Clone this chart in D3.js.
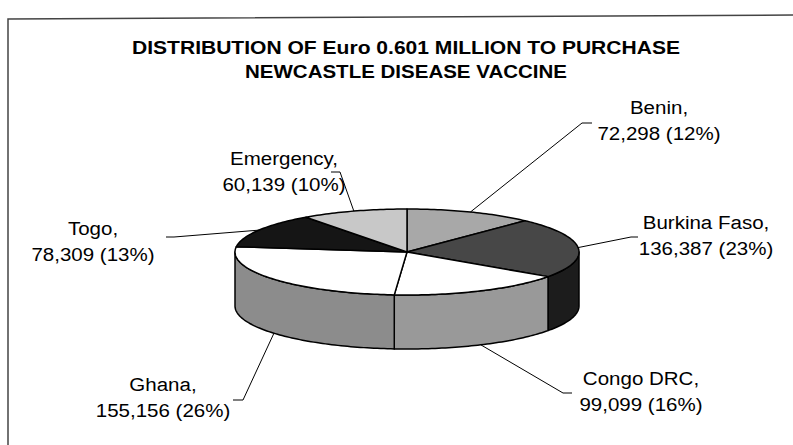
<!DOCTYPE html>
<html>
<head>
<meta charset="utf-8">
<script src="https://cdn.jsdelivr.net/npm/d3@7"></script>
<style>
  body { margin: 0; background: #fff; }
  svg { display: block; }
  text { font-family: "Liberation Sans", Arial, sans-serif; fill: #000; }
</style>
</head>
<body>
<div id="chart"></div>
<script>

// data
var categories = ['Benin', 'Burkina Faso', 'Congo DRC', 'Ghana', 'Togo', 'Emergency'];
var amounts = [72298, 136387, 99099, 155156, 78309, 60139];
var titleLines = ['DISTRIBUTION OF Euro 0.601 MILLION TO PURCHASE', 'NEWCASTLE DISEASE VACCINE'];

// look of the slices (top face / side wall)
var topColors = ['#a8a8a8', '#474747', '#ffffff', '#ffffff', '#151515', '#c8c8c8'];
var sideColors = ['#7a7a7a', '#1c1c1c', '#999999', '#8c8c8c', '#0c0c0c', '#9a9a9a'];

// title line widths in the scan
var titleWidths = [548, 322];

// label placement: text centre, first baseline, leader elbow and leader end
var labelLayout = [
	{ x: 659, y: 114, elbow: [582, 123], end: [592, 123] },
	{ x: 706, y: 229, elbow: [631, 237], end: [638, 237] },
	{ x: 641, y: 385, elbow: [563, 393], end: [572, 393] },
	{ x: 163, y: 391, elbow: [243, 400], end: [233, 400] },
	{ x: 93, y: 235, elbow: [174, 237], end: [166, 237] },
	{ x: 284, y: 165, elbow: [340, 172], end: [331, 172] }
];

var width = 793, height = 445;
var cx = 407, cy = 252, rx = 172, ry = 43, depth = 54;

var svg = d3.select('#chart').append('svg')
	.attr('width', width)
	.attr('height', height);

// scanned frame
svg.append('path')
	.attr('d', 'M8,' + height + ' L8,19 L' + width + ',15')
	.style('fill', 'none')
	.style('stroke', '#444')
	.style('stroke-width', 1.5);

titleLines.forEach(function(t, i) {
	svg.append('text')
		.attr('x', 406)
		.attr('y', 54 + i * 24)
		.attr('text-anchor', 'middle')
		.attr('textLength', titleWidths[i])
		.attr('lengthAdjust', 'spacingAndGlyphs')
		.style('font-size', '19px')
		.style('font-weight', 'bold')
		.text(t);
});

var total = d3.sum(amounts);
var pie = d3.pie().sort(null).value(function(d) { return d.value; });
var slices = pie(categories.map(function(c, i) {
	return { name: c, value: amounts[i], i: i };
}));

function pt(a, dy) {
	return [cx + rx * Math.sin(a), cy - ry * Math.cos(a) + (dy || 0)];
}

function arcPoints(a0, a1, dy) {
	var n = Math.max(2, Math.ceil((a1 - a0) / 0.02));
	return d3.range(n + 1).map(function(k) {
		return pt(a0 + (a1 - a0) * k / n, dy);
	});
}

var line = d3.line();
var plot = svg.append('g');

// side walls (only the front half shows)
slices.forEach(function(s) {
	var a0 = Math.max(s.startAngle, Math.PI / 2);
	var a1 = Math.min(s.endAngle, Math.PI * 3 / 2);
	if (a1 <= a0) return;
	var pts = arcPoints(a0, a1, 0).concat(arcPoints(a0, a1, depth).reverse());
	plot.append('path')
		.attr('d', line(pts) + 'Z')
		.style('fill', sideColors[s.data.i])
		.style('stroke', '#000')
		.style('stroke-width', 1.5)
		.style('stroke-linejoin', 'round');
});

// top faces
slices.forEach(function(s) {
	var pts = [[cx, cy]].concat(arcPoints(s.startAngle, s.endAngle, 0));
	plot.append('path')
		.attr('d', line(pts) + 'Z')
		.style('fill', topColors[s.data.i])
		.style('stroke', '#000')
		.style('stroke-width', 1.5)
		.style('stroke-linejoin', 'round');
});

// labels with leader lines
var fmt = d3.format(',');
slices.forEach(function(s) {
	var L = labelLayout[s.data.i];
	var mid = (s.startAngle + s.endAngle) / 2;
	var front = Math.cos(mid) < 0 && Math.abs(Math.sin(mid)) < 0.95;
	var rim = pt(mid, front ? depth : 0);

	svg.append('path')
		.attr('d', line([rim, L.elbow, L.end]))
		.style('fill', 'none')
		.style('stroke', '#000')
		.style('stroke-width', 1);

	var g = svg.append('g')
		.attr('transform', 'translate(' + L.x + ',' + L.y + ') scale(1.08,1)');
	g.append('text')
		.attr('text-anchor', 'middle')
		.style('font-size', '19px')
		.text(s.data.name + ',');
	g.append('text')
		.attr('text-anchor', 'middle')
		.attr('y', 26)
		.style('font-size', '19px')
		.text(fmt(s.data.value) + ' (' + Math.round(s.data.value / total * 100) + '%)');
});

</script>
</body>
</html>
